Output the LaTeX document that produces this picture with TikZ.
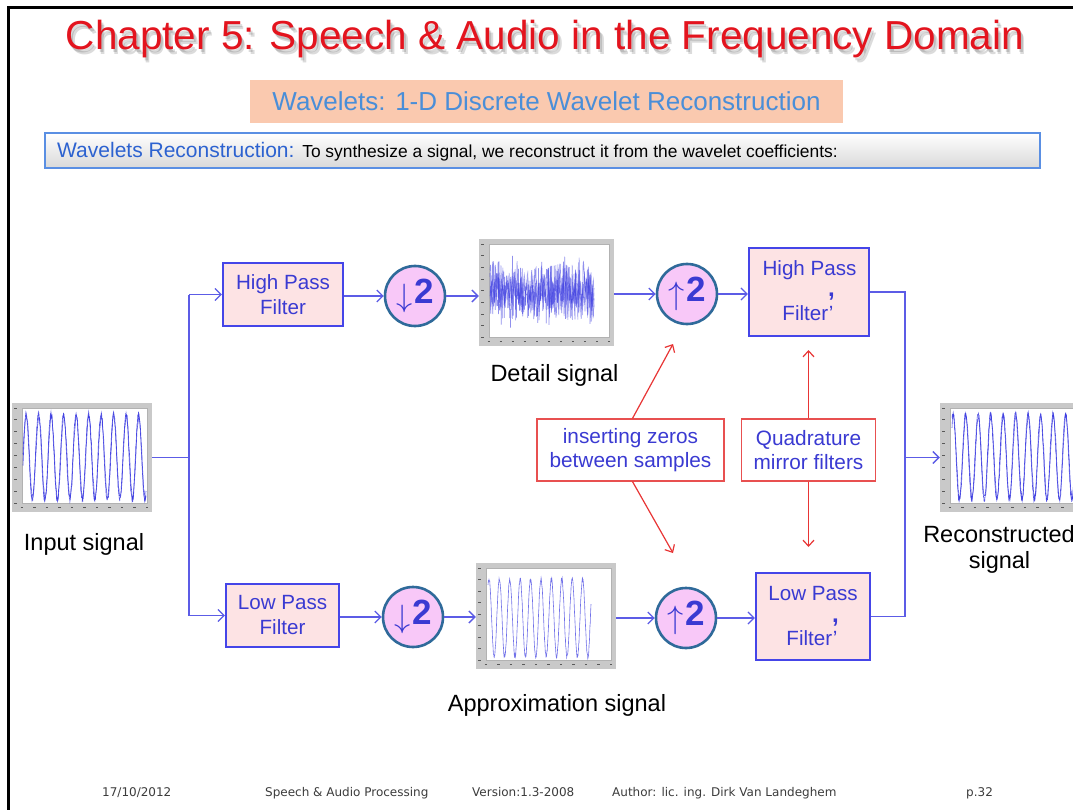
\documentclass[tikz,border=0pt]{standalone}
\usepackage{fontspec}
\setmainfont{Liberation Sans}
\newfontfamily\footfont{DejaVu Sans}
\usetikzlibrary{arrows.meta,calc}

\definecolor{titlered}{HTML}{E3141E}
\definecolor{subfill}{HTML}{FAC9AF}
\definecolor{subblue}{HTML}{4A8ED8}
\definecolor{hdrblue}{HTML}{5A8FE3}
\definecolor{hdrtext}{HTML}{2C62D0}
\definecolor{wirecol}{HTML}{5C5CE6}
\definecolor{boxline}{HTML}{4545E8}
\definecolor{boxfill}{HTML}{FDE3E4}
\definecolor{txtblue}{HTML}{3A3AD2}
\definecolor{circfill}{HTML}{F8C8F8}
\definecolor{circline}{HTML}{2F6A9A}
\definecolor{noteline}{HTML}{E85050}
\definecolor{arrred}{HTML}{E83535}
\definecolor{plotgray}{HTML}{C9C9C9}
\definecolor{wave}{HTML}{3535E0}
\definecolor{foottext}{HTML}{3C3C3C}

\tikzset{
  wire/.style={draw=wirecol, line width=1.4pt},
  flow/.style={wire, -{Straight Barb[length=6pt,width=12pt,line width=1.3pt]}},
  redflow/.style={draw=arrred, line width=1.2pt, -{Straight Barb[length=6pt,width=11pt,line width=1.2pt]}},
  filt/.style={draw=boxline, line width=2.2pt, fill=boxfill, inner sep=0pt, align=center,
               text=txtblue, font=\fontsize{20.6}{25}\selectfont},
  rate/.style={circle, draw=circline, line width=2.6pt, fill=circfill, minimum size=60pt,
               inner sep=0pt, text=txtblue},
  note/.style={draw=noteline, line width=1.2pt, fill=white, inner sep=0pt, align=center,
               text=txtblue, font=\fontsize{20.8}{24.5}\selectfont, minimum height=62pt},
  lbl/.style={text=black, font=\fontsize{23.5}{26}\selectfont, align=center},
  ftxt/.style={text=txtblue, font=\fontsize{20.6}{25}\selectfont, inner sep=0pt},
  plotframe/.style={fill=plotgray, inner sep=0pt},
  plotinner/.style={fill=white, draw=gray!60, line width=0.4pt},
  tickmark/.style={draw=gray!70!black, line width=0.5pt},
  wavepen/.style={draw=wave, line width=0.6pt, opacity=0.85},
  foot/.style={text=foottext, font=\footfont\fontsize{12}{14}\selectfont, inner sep=0pt, anchor=base west},
}

% resampling symbols: tall thin arrow followed by a bold 2
\newcommand{\ratesym}[1]{\raisebox{-3pt}{\scalebox{1.3}{\fontsize{30}{32}\selectfont$#1$}}\kern1.5pt\textbf{\fontsize{35}{36}\selectfont 2}}

% plot panel: grey frame, white axes area and small tick marks
\newcommand{\plotpanel}[5]{%
  \node[plotframe, minimum width=#4, minimum height=#5] (#1) at (#2,#3) {};
  \coordinate (#1-a) at ($(#1.north west)+(10,5)$);
  \coordinate (#1-b) at ($(#1.south east)+(-5,-9)$);
  \draw[plotinner] (#1-a) rectangle (#1-b);
  \foreach \t in {0,0.125,...,1.01}
    \draw[tickmark] ($(#1-a)!\t!(#1-a |- #1-b)$) ++(-7.5,0) -- ++(3,0);
  \foreach \t in {0,0.1,...,1.01}
    \draw[tickmark] ($(#1-a |- #1-b)!\t!(#1-b)$) ++(-1.2,4.5) -- ++(2.4,0);
}

\begin{document}
\begin{tikzpicture}[x=1pt,y=-1pt]
\useasboundingbox (0,0) rectangle (1073,810);
\fill[white] (0,0) rectangle (1073,810);
\clip (0,0) rectangle (1073,810);

% slide frame
\draw[line width=3pt] (8.5,812) -- (8.5,7.5) -- (1075,7.5);

% title with soft drop shadow
\node[anchor=base, text=black, opacity=0.14, font=\fontsize{40.5}{44}\selectfont] (titleshA) at (548.5,54.5) {Chapter 5: Speech \& Audio in the Frequency Domain};
\node[anchor=base, text=black, opacity=0.14, font=\fontsize{40.5}{44}\selectfont] (titleshB) at (547,53) {Chapter 5: Speech \& Audio in the Frequency Domain};
\node[anchor=base, text=titlered, font=\fontsize{40.5}{44}\selectfont] (title) at (545,50) {Chapter 5: Speech \& Audio in the Frequency Domain};

% section heading
\node[fill=subfill, minimum width=593pt, minimum height=43pt, inner sep=0pt,
      text=subblue, font=\fontsize{26}{30}\selectfont] (subtitle) at (546.5,101.5)
      {Wavelets: 1-D Discrete Wavelet Reconstruction};

% intro bar
\node[draw=hdrblue, line width=1.3pt, top color=white, bottom color=gray!30,
      minimum width=995pt, minimum height=35pt, inner sep=0pt] (hdr) at (542.5,150.5) {};
\node[anchor=base west, inner sep=0pt] (hdrtxt) at (57,158)
  {{\color{hdrtext}\fontsize{21}{23}\selectfont Wavelets Reconstruction: }%
   {\color{black}\fontsize{17.4}{20}\selectfont To synthesize a signal, we reconstruct it from the wavelet coefficients:}};

% signal plots
\plotpanel{inp}{82}{457.5}{140}{109}
\plotpanel{det}{546.5}{292.5}{135}{107}
\plotpanel{appr}{546}{616}{140}{106}
\plotpanel{rec}{1010}{457.5}{140}{109}

% waveforms
\pgfmathsetseed{11}
\draw[wavepen] plot[samples=520, domain=23:146] (\x, {457 - 43*cos((\x-26)/12.5*360) + 2.2*rand});
\draw[wavepen] plot[samples=260, domain=23:146] (\x, {457 - 41*cos((\x-26.4)/12.5*360) + 3*rand});
\pgfmathsetseed{5}
\draw[wavepen, opacity=0.55] plot[samples=260, domain=490:594] (\x, {291 + 40*rand*abs(rand) + 10*rand});
\draw[wavepen, opacity=0.55] plot[samples=220, domain=490:594] (\x, {291 + 30*rand});
\draw[wavepen, opacity=0.45] plot[samples=180, domain=490:594] (\x, {291 + 20*rand});
\pgfmathsetseed{23}
\draw[wavepen, opacity=0.7] plot[samples=420, domain=488:591] (\x, {618 - 39*cos((\x-489)/10.4*360) + 1.8*rand});
\pgfmathsetseed{31}
\draw[wavepen] plot[samples=520, domain=952:1075] (\x, {457 - 43*cos((\x-953)/12.5*360) + 2.2*rand});
\draw[wavepen] plot[samples=260, domain=952:1075] (\x, {457 - 41*cos((\x-953.4)/12.5*360) + 3*rand});

% filter blocks
\node[filt, minimum width=120pt, minimum height=63pt] (hp) at (283,294.5) {High Pass\\Filter};
\node[filt, minimum width=113pt, minimum height=63pt] (lp) at (282.5,615.5) {Low Pass\\Filter};
\node[filt, minimum width=120pt, minimum height=88pt] (hp2) at (809,292) {};
\node[filt, minimum width=114pt, minimum height=87pt] (lp2) at (813,616.5) {};
\node[ftxt, anchor=base] (hp2a) at (809.5,276) {High Pass};
\node[ftxt, anchor=base, font=\bfseries\fontsize{24}{26}\selectfont] (hp2c) at (831.5,297) {,};
\node[ftxt, anchor=base] (hp2b) at (808,320) {Filter\textquoteright};
\node[ftxt, anchor=base] (lp2a) at (813,600) {Low Pass};
\node[ftxt, anchor=base, font=\bfseries\fontsize{24}{26}\selectfont] (lp2c) at (835.5,622) {,};
\node[ftxt, anchor=base] (lp2b) at (812,645) {Filter\textquoteright};

% rate changers
\node[rate] (dn1) at (415,296) {\ratesym{\downarrow}};
\node[rate] (dn2) at (413,617) {\ratesym{\downarrow}};
\node[rate] (up1) at (687,294) {\ratesym{\uparrow}};
\node[rate] (up2) at (686,618) {\ratesym{\uparrow}};

% captions
\node[lbl, anchor=base] (inpl) at (84,550) {Input signal};
\node[lbl, anchor=base] (detl) at (554.5,381) {Detail signal};
\node[lbl, anchor=base] (apprl) at (557,711) {Approximation signal};
\node[lbl, anchor=base] (recl) at (999,542) {Reconstructed};
\node[lbl, anchor=base] (recl2) at (999.5,568) {signal};

% analysis side wiring
\coordinate (split) at (189,457.5);
\coordinate (splitT) at (189,294.5);
\coordinate (splitB) at (189,615.5);
\draw[wire] (inp.east) -- (split);
\draw[wire] (splitT) -- (splitB);
\draw[flow] (splitT) -- (hp.west);
\draw[flow] (splitB) -- (lp.west);
\draw[flow] (hp.east |- dn1.west) -- (dn1.west);
\draw[flow] (lp.east |- dn2.west) -- (dn2.west);
\draw[flow] (dn1.east) -- (dn1.east -| det.west);
\draw[flow] (dn2.east) -- (dn2.east -| appr.west);

% synthesis side wiring
\draw[flow] (det.east |- up1.west) -- (up1.west);
\draw[flow] (appr.east |- up2.west) -- (up2.west);
\draw[flow] (up1.east) -- (up1.east -| hp2.west);
\draw[flow] (up2.east) -- (up2.east -| lp2.west);
\coordinate (joinT) at (905,292);
\coordinate (joinB) at (905,616.5);
\draw[wire] (hp2.east) -- (joinT) -- (joinB) -- (lp2.east);
\draw[flow] (joinT |- rec.west) -- (rec.west);

% annotations
\node[note, minimum width=187pt] (nz) at (630.5,450) {inserting zeros\\between samples};
\node[note, minimum width=134pt] (qm) at (808.5,450) {Quadrature\\mirror filters};
\coordinate (tipA) at (673,344);
\coordinate (tipB) at (673,553);
\coordinate (tipC) at (808.5,350);
\coordinate (tipD) at (808.5,547);
\draw[redflow] ([xshift=2pt]nz.north) -- (tipA);
\draw[redflow] ([xshift=2pt]nz.south) -- (tipB);
\draw[redflow] (qm.north) -- (tipC);
\draw[redflow] (qm.south) -- (tipD);

% footer
\node[foot] (fdate) at (102,796) {17/10/2012};
\node[foot] (fcourse) at (265,796) {Speech \& Audio Processing};
\node[foot] (fver) at (472,796) {Version:1.3-2008};
\node[foot] (fauth) at (612,796) {Author: lic. ing. Dirk Van Landeghem};
\node[foot] (fpage) at (966,796) {p.32};
\end{tikzpicture}
\end{document}
